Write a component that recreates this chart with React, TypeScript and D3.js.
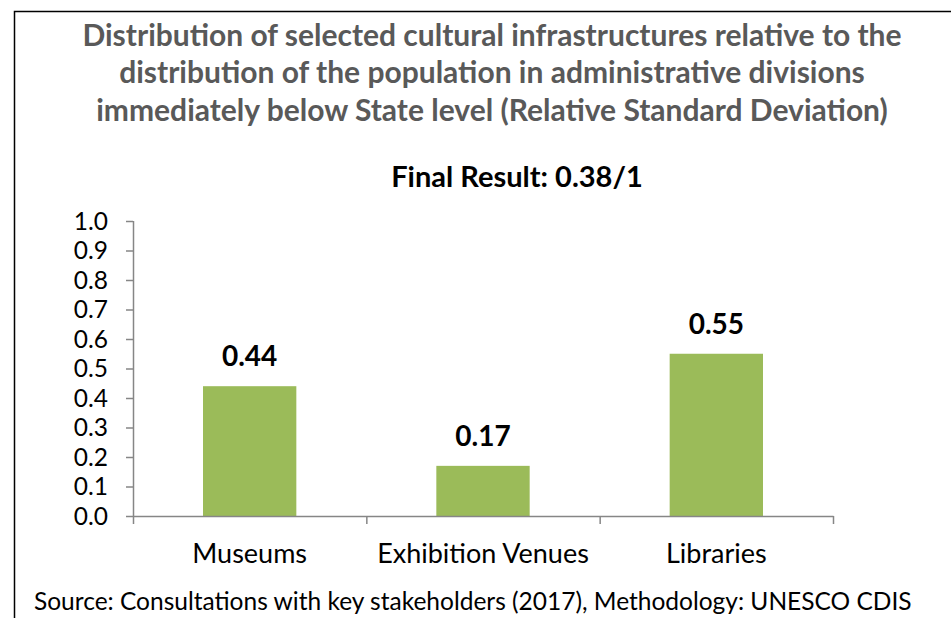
import { useEffect, useRef } from "react";
import * as d3 from "d3";

const categories = ["Museums", "Exhibition Venues", "Libraries"];
const values = [0.44, 0.17, 0.55];
const valueLabels = ["0.44", "0.17", "0.55"];
const yTicks = [0, 0.1, 0.2, 0.3, 0.4, 0.5, 0.6, 0.7, 0.8, 0.9, 1.0];
const titleLines = [
  "Distribution of selected cultural infrastructures relative to the",
  "distribution of the population in administrative divisions",
  "immediately below State level (Relative Standard Deviation)",
];
const subtitle = "Final Result: 0.38/1";
const source = "Source: Consultations with key stakeholders (2017), Methodology: UNESCO CDIS";

const FONT = "Lato, 'Open Sans', sans-serif";

export default function App() {
  const ref = useRef<SVGSVGElement>(null);

  useEffect(() => {
    if (!ref.current) return;
    const svg = d3.select(ref.current);
    svg.selectAll("*").remove();

    const w = 951, h = 618;
    const left = 133, right = 833, top = 221, bottom = 516;

    // frame: only top and left edges fall inside the picture
    svg.append("path")
      .attr("d", `M14.5,${h} L14.5,11.5 L${w},11.5`)
      .attr("fill", "none").attr("stroke", "#000").attr("stroke-width", 1.5);

    const x = d3.scaleBand().domain(categories).range([left, right]);
    const y = d3.scaleLinear().domain([0, 1]).range([bottom, top]);
    const barW = x.bandwidth() * 0.4;

    svg.append("g").attr("text-anchor", "middle").style("font-family", FONT)
      .style("font-weight", "700").style("font-size", "30px").attr("fill", "#595959")
      .selectAll("text").data(titleLines).join("text")
      .attr("x", 492).attr("y", (_, i) => 45.5 + i * 37.5).text(d => d);

    svg.append("text").attr("x", 517).attr("y", 187).attr("text-anchor", "middle")
      .style("font-family", FONT).style("font-weight", "700").style("font-size", "29px")
      .attr("fill", "#000").text(subtitle);

    // bars
    svg.append("g").selectAll("rect").data(values).join("rect")
      .attr("x", (_, i) => x(categories[i])! + (x.bandwidth() - barW) / 2)
      .attr("y", d => y(d)).attr("width", barW).attr("height", d => bottom - y(d))
      .attr("fill", "#9BBB59");

    svg.append("g").attr("text-anchor", "middle").style("font-family", FONT)
      .style("font-weight", "700").style("font-size", "28px").attr("fill", "#000")
      .selectAll("text").data(values).join("text")
      .attr("x", (_, i) => x(categories[i])! + x.bandwidth() / 2)
      .attr("y", d => y(d) - 20).text((_, i) => valueLabels[i]);

    const axisColor = "#868686";
    // y axis
    const gy = svg.append("g");
    gy.append("line").attr("x1", left + 0.5).attr("x2", left + 0.5).attr("y1", top).attr("y2", bottom)
      .attr("stroke", axisColor).attr("stroke-width", 1.5);
    gy.selectAll("line.t").data(yTicks).join("line").attr("class", "t")
      .attr("x1", left - 7).attr("x2", left).attr("y1", d => y(d) + 0.5).attr("y2", d => y(d) + 0.5)
      .attr("stroke", axisColor).attr("stroke-width", 1.5);
    gy.selectAll("text").data(yTicks).join("text")
      .attr("x", 108).attr("y", d => y(d)).attr("dy", "0.35em").attr("text-anchor", "end")
      .style("font-family", FONT).style("font-size", "24.5px").attr("fill", "#000")
      .text(d => d.toFixed(1));

    // x axis
    const gx = svg.append("g");
    gx.append("line").attr("x1", left).attr("x2", right + 0.5).attr("y1", bottom + 0.5).attr("y2", bottom + 0.5)
      .attr("stroke", axisColor).attr("stroke-width", 1.5);
    const bounds = [...categories.map(c => x(c)!), right];
    gx.selectAll("line.t").data(bounds).join("line").attr("class", "t")
      .attr("x1", d => d + 0.5).attr("x2", d => d + 0.5).attr("y1", bottom).attr("y2", bottom + 8)
      .attr("stroke", axisColor).attr("stroke-width", 1.5);
    gx.selectAll("text").data(categories).join("text")
      .attr("x", d => x(d)! + x.bandwidth() / 2).attr("y", 563).attr("text-anchor", "middle")
      .style("font-family", FONT).style("font-size", "27px").attr("fill", "#000").text(d => d);

    svg.append("text").attr("x", 34).attr("y", 610)
      .style("font-family", FONT).style("font-size", "24.5px").attr("fill", "#000").text(source);
  }, []);

  return <svg ref={ref} width={951} height={618} style={{ position: "absolute", left: 0, top: 0 }} />;
}
